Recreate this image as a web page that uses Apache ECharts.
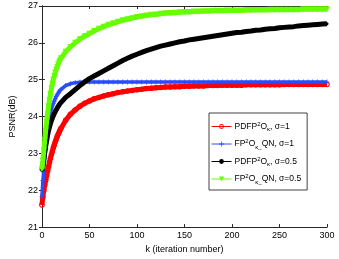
<!DOCTYPE html>
<html>
<head>
<meta charset="utf-8">
<script src="https://cdn.jsdelivr.net/npm/echarts@6/dist/echarts.min.js"></script>
<style>html,body{margin:0;padding:0;background:#fff}#chart{width:339px;height:259px}</style>
</head>
<body>
<div id="chart"></div>
<script>
const iterations = [0,1,2,3,4,5,6,7,8,9,10,11,12,13,14,15,16,17,18,19,20,
  25,30,35,40,45,50,55,60,65,70,75,80,85,90,95,100,105,110,115,120,125,130,135,140,145,150,
  155,160,165,170,175,180,185,190,195,200,205,210,215,220,225,230,235,240,245,250,
  255,260,265,270,275,280,285,290,295,300];

const psnrPdfpSigma1 = [21.60,21.82,22.00,22.14,22.27,22.40,22.52,22.64,22.76,22.87,22.97,23.06,23.15,23.23,23.31,23.38,23.45,23.51,23.57,23.63,23.68,
  23.90,24.06,24.18,24.28,24.36,24.42,24.48,24.52,24.56,24.59,24.62,24.65,24.67,24.69,24.71,24.73,24.74,24.76,24.77,24.78,24.79,24.80,24.80,24.81,24.81,24.82,
  24.82,24.83,24.83,24.83,24.84,24.84,24.84,24.85,24.85,24.85,24.85,24.85,24.86,24.86,24.86,24.86,24.86,24.86,24.86,24.86,
  24.87,24.87,24.87,24.87,24.87,24.87,24.87,24.87,24.87,24.87];

const psnrQnSigma1 = [21.82,22.26,22.55,22.85,23.12,23.38,23.60,23.78,23.94,24.08,24.20,24.29,24.36,24.42,24.48,24.54,24.59,24.63,24.67,24.71,24.74,
  24.84,24.89,24.92,24.93,24.94,24.94,24.94,24.94,24.94,24.94,24.94,24.94,24.94,24.94,24.94,24.94,24.94,24.94,24.94,24.94,24.94,24.94,24.94,24.94,24.94,24.94,
  24.94,24.94,24.94,24.94,24.94,24.94,24.94,24.94,24.94,24.94,24.94,24.94,24.94,24.94,24.94,24.94,24.94,24.94,24.94,24.94,
  24.94,24.94,24.94,24.94,24.94,24.94,24.94,24.94,24.94,24.94];

const psnrPdfpSigma05 = [22.53,22.68,22.85,23.03,23.20,23.35,23.50,23.62,23.72,23.81,23.89,23.96,24.02,24.08,24.13,24.18,24.23,24.27,24.31,24.35,24.39,
  24.52,24.62,24.73,24.84,24.94,25.03,25.10,25.17,25.24,25.31,25.38,25.45,25.52,25.58,25.64,25.69,25.74,25.79,25.83,25.87,25.91,25.94,25.97,26.00,26.03,26.05,
  26.08,26.10,26.12,26.14,26.16,26.18,26.20,26.22,26.24,26.26,26.28,26.29,26.31,26.32,26.34,26.35,26.37,26.38,26.39,26.41,
  26.42,26.43,26.44,26.46,26.47,26.48,26.49,26.50,26.51,26.52];

const psnrQnSigma05 = [22.57,22.80,23.08,23.36,23.62,23.86,24.07,24.27,24.45,24.61,24.76,24.89,25.00,25.10,25.19,25.27,25.34,25.41,25.47,25.53,25.58,
  25.76,25.89,26.00,26.10,26.18,26.25,26.32,26.38,26.44,26.49,26.53,26.57,26.61,26.64,26.67,26.70,26.72,26.74,26.76,26.77,26.79,26.80,26.81,26.82,26.83,26.84,
  26.84,26.85,26.85,26.86,26.86,26.87,26.87,26.87,26.88,26.88,26.88,26.88,26.89,26.89,26.89,26.89,26.89,26.90,26.90,26.90,
  26.90,26.90,26.90,26.90,26.91,26.91,26.91,26.91,26.91,26.91];

const seriesNames = ['PDFP2O σ=1', 'FP2O_QN σ=1', 'PDFP2O σ=0.5', 'FP2O_QN σ=0.5'];
const legendLabels = [
  'PDFP{sup|2}O{sub|κ}, σ=1',
  'FP{sup|2}O{sub|κ_}QN, σ=1',
  'PDFP{sup|2}O{sub|κ}, σ=0.5',
  'FP{sup|2}O{sub|κ_}QN, σ=0.5'
];
const xMin = 0, xMax = 300, xStep = 50;
const yMin = 21, yMax = 27, yStep = 1;

const pairs = vals => iterations.map((k, i) => [k, vals[i]]);
const FONT = '"Liberation Sans", Arial, sans-serif';
const plusPath = 'path://M-0.16,-1H0.16V-0.16H1V0.16H0.16V1H-0.16V0.16H-1V-0.16H-0.16Z';
const ringPath = 'path://M0,-1A1,1 0 1,1 0,1A1,1 0 1,1 0,-1ZM0,-0.62A0.62,0.62 0 1,0 0,0.62A0.62,0.62 0 1,0 0,-0.62Z';

const chart = echarts.init(document.getElementById('chart'), null, {renderer: 'canvas'});
const axisCommon = {
  axisLine: {show: true, lineStyle: {color: '#262626', width: 1}},
  axisTick: {show: true, inside: true, length: 3, lineStyle: {color: '#262626', width: 1}},
  splitLine: {show: false}
};
chart.setOption({
  animation: false,
  backgroundColor: '#fff',
  textStyle: {fontFamily: FONT},
  grid: {left: 26, top: 6, width: 301, height: 227},
  legend: {
    orient: 'vertical',
    left: 209, top: 113,
    padding: [8, 6, 5, 2],
    itemGap: 6,
    itemWidth: 20, itemHeight: 6,
    backgroundColor: '#fff',
    borderColor: '#111', borderWidth: 0.8, borderRadius: 0,
    lineStyle: {width: 1},
    data: seriesNames,
    formatter: name => legendLabels[seriesNames.indexOf(name)],
    textStyle: {
      fontFamily: FONT, fontSize: 8.5, color: '#000', padding: [0, 0, 0, -2],
      rich: {
        sup: {fontFamily: FONT, fontSize: 6, color: '#000', padding: [0, 0, 5, 0]},
        sub: {fontFamily: FONT, fontSize: 6, color: '#000', padding: [6, 0, 0, 0]}
      }
    }
  },
  xAxis: [
    Object.assign({
      type: 'value', min: xMin, max: xMax, interval: xStep, position: 'bottom',
      name: 'k (iteration number)', nameLocation: 'middle', nameGap: 15,
      nameTextStyle: {fontFamily: FONT, fontSize: 9, color: '#000'},
      axisLabel: {fontFamily: FONT, fontSize: 9, color: '#000', margin: 4}
    }, axisCommon),
    Object.assign({
      type: 'value', min: xMin, max: xMax, interval: xStep, position: 'top',
      axisLabel: {show: false}
    }, axisCommon)
  ],
  yAxis: [
    Object.assign({
      type: 'value', min: yMin, max: yMax, interval: yStep, position: 'left',
      name: 'PSNR(dB)', nameLocation: 'middle', nameGap: 18,
      nameTextStyle: {fontFamily: FONT, fontSize: 9, color: '#000'},
      axisLabel: {fontFamily: FONT, fontSize: 9, color: '#000', margin: 4}
    }, axisCommon),
    Object.assign({
      type: 'value', min: yMin, max: yMax, interval: yStep, position: 'right',
      axisLabel: {show: false}
    }, axisCommon)
  ],
  series: [
    {
      name: seriesNames[0], type: 'line', data: pairs(psnrPdfpSigma1),
      color: '#ff0000',
      lineStyle: {color: '#ff0000', width: 5},
      symbol: ringPath, symbolSize: 5.5,
      itemStyle: {color: '#ff0000'},
      z: 2
    },
    {
      name: seriesNames[1], type: 'line', data: pairs(psnrQnSigma1),
      color: '#2a4cff',
      lineStyle: {color: '#2a4cff', width: 3.5},
      symbol: plusPath, symbolSize: 5,
      itemStyle: {color: '#2a4cff'},
      z: 3
    },
    {
      name: seriesNames[2], type: 'line', data: pairs(psnrPdfpSigma05),
      color: '#000',
      lineStyle: {color: '#000', width: 5},
      symbol: 'circle', symbolSize: 3,
      itemStyle: {color: '#000'},
      z: 4
    },
    {
      name: seriesNames[3], type: 'line', data: pairs(psnrQnSigma05),
      color: '#66ff00',
      lineStyle: {color: '#66ff00', width: 5},
      symbol: 'triangle', symbolRotate: 180, symbolSize: 6,
      itemStyle: {color: '#66ff00'},
      z: 5
    }
  ]
});
</script>
</body>
</html>
